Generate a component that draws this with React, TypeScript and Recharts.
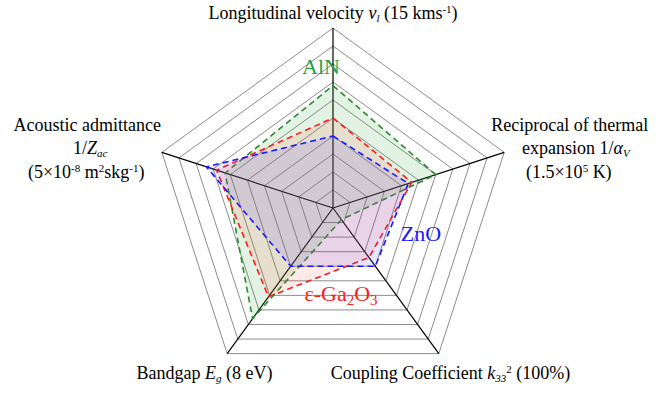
import React from 'react';
import { RadarChart, Radar, PolarGrid, PolarAngleAxis, PolarRadiusAxis } from 'recharts';

const axes = ['Longitudinal velocity', 'Reciprocal of thermal expansion', 'Coupling Coefficient', 'Bandgap', 'Acoustic admittance'];
// normalised values (fraction of each axis maximum)
const alnValues = [0.68, 0.6, 0.08, 0.76, 0.63];
const ga2o3Values = [0.5, 0.46, 0.34, 0.61, 0.68];
const znoValues = [0.4, 0.44, 0.4, 0.4, 0.74];
const ringLevels = [0.1, 0.2, 0.3, 0.4, 0.5, 0.6, 0.7, 0.8, 0.9, 1.0];

const data = axes.map((axis, i) => ({
  axis,
  aln: alnValues[i],
  ga2o3: ga2o3Values[i],
  zno: znoValues[i],
}));

const FONT = "'Liberation Serif', 'Times New Roman', serif";
const OUTER = 180;

const Sup = ({ children }: any) => (
  <tspan baselineShift="6" fontSize={11}>{children}</tspan>
);
const Sub = ({ children }: any) => (
  <tspan baselineShift="-3" fontSize={11} fontStyle="italic">{children}</tspan>
);

// Custom multi-line axis labels
const AxisTick = ({ x, y, index }: any) => {
  const common = { fontFamily: FONT, fontSize: 18, fill: '#000', textAnchor: 'middle' as const };
  if (index === 0) {
    return (
      <text x={x} y={y - 1} {...common}>
        Longitudinal velocity <tspan fontStyle="italic">v</tspan>
        <Sub>l</Sub> (15 kms<Sup>-1</Sup>)
      </text>
    );
  }
  if (index === 1) {
    return (
      <g>
        <text x={x + 58} y={y - 19} {...common}>Reciprocal of  thermal</text>
        <text x={x + 64} y={y + 4} {...common}>
          expansion 1/<tspan fontStyle="italic">α</tspan><Sub>V</Sub>
        </text>
        <text x={x + 57} y={y + 28} {...common}>
          (1.5×10<Sup>5</Sup> K)
        </text>
      </g>
    );
  }
  if (index === 2) {
    return (
      <text x={x + 7} y={y + 19} {...common}>
        Coupling Coefficient <tspan fontStyle="italic">k</tspan><Sub>33</Sub><Sup>2</Sup> (100%)
      </text>
    );
  }
  if (index === 3) {
    return (
      <text x={x - 18} y={y + 19} {...common}>
        Bandgap <tspan fontStyle="italic">E</tspan><Sub>g</Sub> (8 eV)
      </text>
    );
  }
  return (
    <g>
      <text x={x - 67} y={y - 19} {...common}>Acoustic admittance</text>
      <text x={x - 64} y={y + 4} {...common}>
        1/<tspan fontStyle="italic">Z</tspan><Sub>ac</Sub>
      </text>
      <text x={x - 68} y={y + 28} {...common}>
        (5×10<Sup>-8</Sup> m<Sup>2</Sup>skg<Sup>-1</Sup>)
      </text>
    </g>
  );
};

const seriesLabel = (color: string): React.CSSProperties => ({
  position: 'absolute',
  fontFamily: FONT,
  fontSize: 22,
  color,
  lineHeight: 1,
  whiteSpace: 'nowrap',
  transform: 'translate(-50%, -50%)',
});

export default function App() {
  return (
    <div style={{ position: 'absolute', left: 0, top: 0, width: 668, height: 393, background: '#fff' }}>
      <RadarChart width={668} height={393} data={data} cx={333} cy={208} outerRadius={OUTER} margin={{ top: 0, right: 0, bottom: 0, left: 0 }}>
        <PolarGrid
          gridType="polygon"
          radialLines={false}
          polarRadius={ringLevels.map((l) => l * OUTER)}
          stroke="#8c8c8c"
          strokeWidth={1}
        />
        <PolarRadiusAxis domain={[0, 1]} tick={false} axisLine={false} />
        <Radar dataKey="aln" stroke="#2a8a2a" strokeWidth={1.6} strokeDasharray="6 4" fill="#3aa83a" fillOpacity={0.14} dot={false} isAnimationActive={false} />
        <Radar dataKey="ga2o3" stroke="#ff1a1a" strokeWidth={1.6} strokeDasharray="6 4" fill="#ff5a3a" fillOpacity={0.13} dot={false} isAnimationActive={false} />
        <Radar dataKey="zno" stroke="#1a1aff" strokeWidth={1.6} strokeDasharray="6 4" fill="#4a3aff" fillOpacity={0.13} dot={false} isAnimationActive={false} />
        <PolarGrid gridType="polygon" polarRadius={[]} stroke="#000" strokeWidth={1.2} />
        <PolarAngleAxis dataKey="axis" tick={<AxisTick />} tickLine={false} axisLine={false} />
      </RadarChart>
      <div style={{ ...seriesLabel('#1aa14a'), left: 321, top: 67 }}>AlN</div>
      <div style={{ ...seriesLabel('#1a1aff'), left: 421, top: 234 }}>ZnO</div>
      <div style={{ ...seriesLabel('#ff1a1a'), left: 341, top: 295 }}>
        ε-Ga<sub style={{ fontSize: 15, verticalAlign: -4 }}>2</sub>O<sub style={{ fontSize: 15, verticalAlign: -4 }}>3</sub>
      </div>
    </div>
  );
}
